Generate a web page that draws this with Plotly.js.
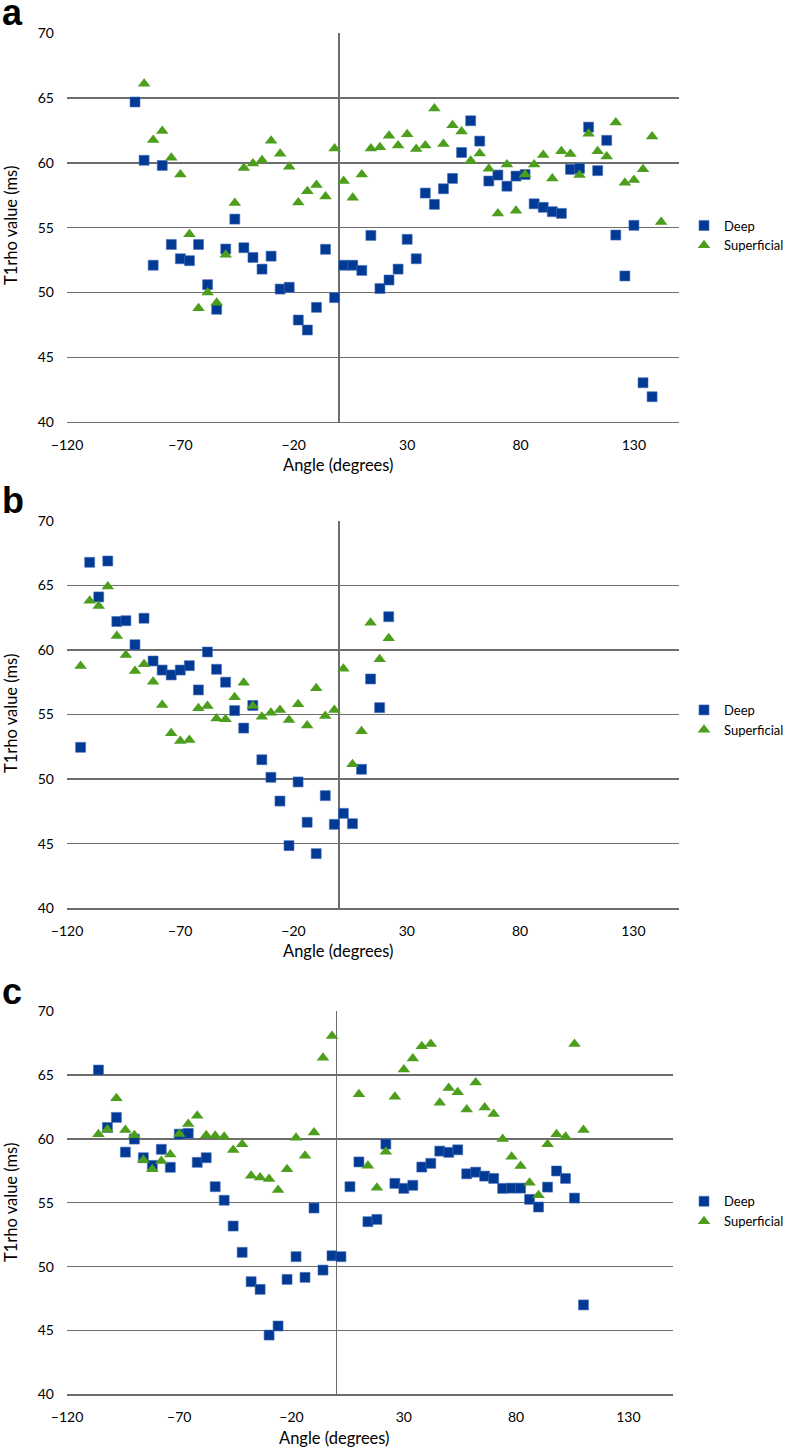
<!DOCTYPE html>
<html>
<head>
<meta charset="utf-8">
<script src="https://cdn.plot.ly/plotly-3.0.1.min.js"></script>
<style>
  html, body { margin: 0; padding: 0; background: #ffffff; }
  #chart { width: 788px; height: 1449px; }
</style>
</head>
<body>
<div id="chart"></div>
<script>
// ---------- Data ----------
// Panel a
const angleDeepA = [-90,-86,-82,-78,-74,-70,-66,-62,-58,-54,-50,-46,-42,-38,-34,-30,-26,-22,-18,-14,-10,-6,-2,2,6,10,14,18,22,26,30,34,38,42,46,50,54,58,62,66,70,74,78,82,86,90,94,98,102,106,110,114,118,122,126,130,134,138];
const deepA = [64.7,60.2,52.1,59.8,53.7,52.6,52.45,53.7,50.6,48.7,53.35,55.66,53.45,52.7,51.8,52.8,50.26,50.4,47.87,47.1,48.85,53.33,49.6,52.1,52.1,51.7,54.4,50.3,50.96,51.8,54.1,52.6,57.67,56.8,58.0,58.8,60.8,63.25,61.68,58.6,59.06,58.2,58.98,59.1,56.84,56.57,56.23,56.1,59.5,59.57,62.76,59.4,61.74,54.43,51.27,55.18,43.03,41.95];
const angleSupA = [-86,-82,-78,-74,-70,-66,-62,-58,-54,-50,-46,-42,-38,-34,-30,-26,-22,-18,-14,-10,-6,-2,2,6,10,14,18,22,26,30,34,38,42,46,50,54,58,62,66,70,74,78,82,86,90,94,98,102,106,110,114,118,122,126,130,134,138,142];
const supA = [66.1,61.76,62.45,60.4,59.1,54.5,48.77,50.0,49.2,52.9,56.9,59.6,59.96,60.2,61.7,60.7,59.7,56.95,57.8,58.3,57.4,61.1,58.6,57.3,59.1,61.1,61.2,62.1,61.35,62.2,61.07,61.35,64.2,61.45,62.9,62.43,60.16,60.73,59.55,56.1,59.88,56.3,59.1,59.88,60.6,58.8,60.9,60.68,59.06,62.25,60.9,60.5,63.12,58.47,58.67,59.5,62.04,55.43];

// Panel b
const angleDeepB = [-114,-110,-106,-102,-98,-94,-90,-86,-82,-78,-74,-70,-66,-62,-58,-54,-50,-46,-42,-38,-34,-30,-26,-22,-18,-14,-10,-6,-2,2,6,10,14,18,22];
const deepB = [52.46,66.78,64.1,66.88,62.2,62.26,60.4,62.45,59.14,58.44,58.06,58.44,58.78,56.9,59.84,58.5,57.5,55.3,53.95,55.7,51.5,50.14,48.3,44.85,49.78,46.66,44.23,48.72,46.5,47.35,46.55,50.76,57.75,55.53,62.57];
const angleSupB = [-114,-110,-106,-102,-98,-94,-90,-86,-82,-78,-74,-70,-66,-62,-58,-54,-50,-46,-42,-38,-34,-30,-26,-22,-18,-14,-10,-6,-2,2,6,10,14,18,22];
const supB = [58.75,63.8,63.4,64.9,61.08,59.6,58.37,58.88,57.54,55.74,53.54,52.95,53.03,55.48,55.66,54.7,54.63,56.33,57.46,55.66,54.83,55.14,55.35,54.57,55.79,54.15,57.03,54.88,55.35,58.55,51.15,53.7,62.1,59.27,60.9];

// Panel c
const angleDeepC = [-106,-102,-98,-94,-90,-86,-82,-78,-74,-70,-66,-62,-58,-54,-50,-46,-42,-38,-34,-30,-26,-22,-18,-14,-10,-6,-2,2,6,10,14,18,22,26,30,34,38,42,46,50,54,58,62,66,70,74,78,82,86,90,94,98,102,106,110];
const deepC = [65.4,60.9,61.69,58.97,59.99,58.53,57.93,59.19,57.78,60.38,60.44,58.17,58.53,56.26,55.2,53.18,51.12,48.82,48.22,44.64,45.35,49.0,50.78,49.16,54.59,49.73,50.85,50.78,56.26,58.2,53.52,53.7,59.6,56.52,56.13,56.37,57.8,58.09,59.05,58.95,59.15,57.27,57.4,57.09,56.91,56.13,56.15,56.15,55.27,54.67,56.23,57.49,56.91,55.37,47.0];
const angleSupC = [-106,-102,-98,-94,-90,-86,-82,-78,-74,-70,-66,-62,-58,-54,-50,-46,-42,-38,-34,-30,-26,-22,-18,-14,-10,-6,-2,10,14,18,22,26,30,34,38,42,46,50,54,58,62,66,70,74,78,82,86,90,94,98,102,106,110];
const supC = [60.36,60.75,63.18,60.7,60.3,58.35,57.62,58.27,58.79,60.38,61.17,61.82,60.3,60.25,60.17,59.13,59.58,57.12,56.99,56.86,56.0,57.62,60.1,58.68,60.5,66.36,68.06,63.5,57.9,56.18,59.0,63.3,65.45,66.3,67.27,67.43,62.83,64.0,63.65,62.3,64.43,62.47,61.95,59.99,58.6,57.88,56.57,55.6,59.58,60.36,60.17,67.43,60.7];

// Axis ticks and labels
const xTickVals = [-120, -70, -20, 30, 80, 130];
const yTickVals = [40, 45, 50, 55, 60, 65, 70];
const xRange = [-120, 150];
const yRange = [40, 70];
const seriesNames = ['Deep', 'Superficial'];
const panelLetters = ['a', 'b', 'c'];
const xTitle = 'Angle (degrees)';
const yTitle = 'T1rho value (ms)';

// ---------- Styling ----------
const W = 788, H = 1449;
const FONT = 'Lato, "Open Sans", sans-serif';
const LINE = '#6d6d6d';
const BLUE = '#003a94';
const GREEN = '#4c9e1c';

// pixel geometry of each panel's plot area
const panels = [
  {l: 67, r: 679.3, t: 33.3, b: 422, legY: 235.5, titleX: 338, titleY: 465, yTitleY: 226, letterY: 13},
  {l: 67, r: 678.7, t: 520.7, b: 908.3, legY: 720, titleX: 338.7, titleY: 951.5, yTitleY: 714, letterY: 500},
  {l: 67, r: 673.3, t: 1011.3, b: 1394.3, legY: 1211.3, titleX: 334, titleY: 1438, yTitleY: 1203, letterY: 992}
];
const px = v => v / W;
const py = v => 1 - v / H;

const dataSets = [
  [angleDeepA, deepA, angleSupA, supA],
  [angleDeepB, deepB, angleSupB, supB],
  [angleDeepC, deepC, angleSupC, supC]
];

const traces = [];
const layout = {
  width: W, height: H,
  margin: {l: 0, r: 0, t: 0, b: 0, pad: 0, autoexpand: false},
  paper_bgcolor: '#ffffff',
  plot_bgcolor: '#ffffff',
  showlegend: true,
  font: {family: FONT, color: '#000000'},
  annotations: []
};

dataSets.forEach((ds, i) => {
  const n = i === 0 ? '' : String(i + 1);
  const xa = 'x' + n, ya = 'y' + n;
  const legName = 'legend' + n;
  const p = panels[i];

  traces.push({
    type: 'scatter', mode: 'markers', name: seriesNames[0],
    x: ds[0], y: ds[1], xaxis: xa, yaxis: ya, legend: legName,
    marker: {symbol: 'square', size: 10, color: BLUE, line: {width: 0.6, color: '#4a6fb8'}},
    cliponaxis: false
  });
  traces.push({
    type: 'scatter', mode: 'markers', name: seriesNames[1],
    x: ds[2], y: ds[3], xaxis: xa, yaxis: ya, legend: legName,
    marker: {symbol: 'triangle-up', size: 11, color: GREEN, line: {width: 0}},
    cliponaxis: false
  });

  layout['xaxis' + n] = {
    domain: [px(p.l), px(p.r)],
    anchor: ya,
    automargin: false,
    range: xRange,
    tickmode: 'array', tickvals: xTickVals,
    showgrid: false,
    zeroline: true, zerolinecolor: LINE, zerolinewidth: 1.3,
    showline: true, linecolor: LINE, linewidth: 1.3,
    ticks: '', ticklabelstandoff: 10,
    tickfont: {family: FONT, size: 14, color: '#000'},
    fixedrange: true
  };
  layout['yaxis' + n] = {
    domain: [py(p.b), py(p.t)],
    anchor: xa,
    automargin: false,
    range: yRange,
    tickmode: 'array', tickvals: yTickVals,
    showgrid: true, gridcolor: LINE, gridwidth: 1.3,
    zeroline: false, showline: false,
    ticks: '', ticklabelstandoff: 12,
    tickfont: {family: FONT, size: 14, color: '#000'},
    fixedrange: true
  };
  layout[legName] = {
    xref: 'container', yref: 'container',
    x: px(684), y: py(p.legY), xanchor: 'left', yanchor: 'middle',
    bgcolor: 'rgba(0,0,0,0)', borderwidth: 0,
    font: {family: FONT, size: 13, color: '#000'},
    itemwidth: 30, tracegroupgap: 0
  };

  layout.annotations.push({
    xref: 'paper', yref: 'paper', x: 0, y: py(p.letterY), xanchor: 'left', yanchor: 'middle',
    text: '<b>' + panelLetters[i] + '</b>', showarrow: false,
    font: {family: '"Liberation Sans", Arial, sans-serif', size: 36, color: '#000'}
  });
  layout.annotations.push({
    xref: 'paper', yref: 'paper', x: px(p.titleX), y: py(p.titleY), xanchor: 'center', yanchor: 'middle',
    text: xTitle, showarrow: false,
    font: {family: FONT, size: 16.5, color: '#000'}
  });
  layout.annotations.push({
    xref: 'paper', yref: 'paper', x: px(11), y: py(p.yTitleY), xanchor: 'center', yanchor: 'middle',
    text: yTitle, textangle: -90, showarrow: false,
    font: {family: FONT, size: 16.5, color: '#000'}
  });
});

Plotly.newPlot('chart', traces, layout, {staticPlot: true, displayModeBar: false});
</script>
</body>
</html>
